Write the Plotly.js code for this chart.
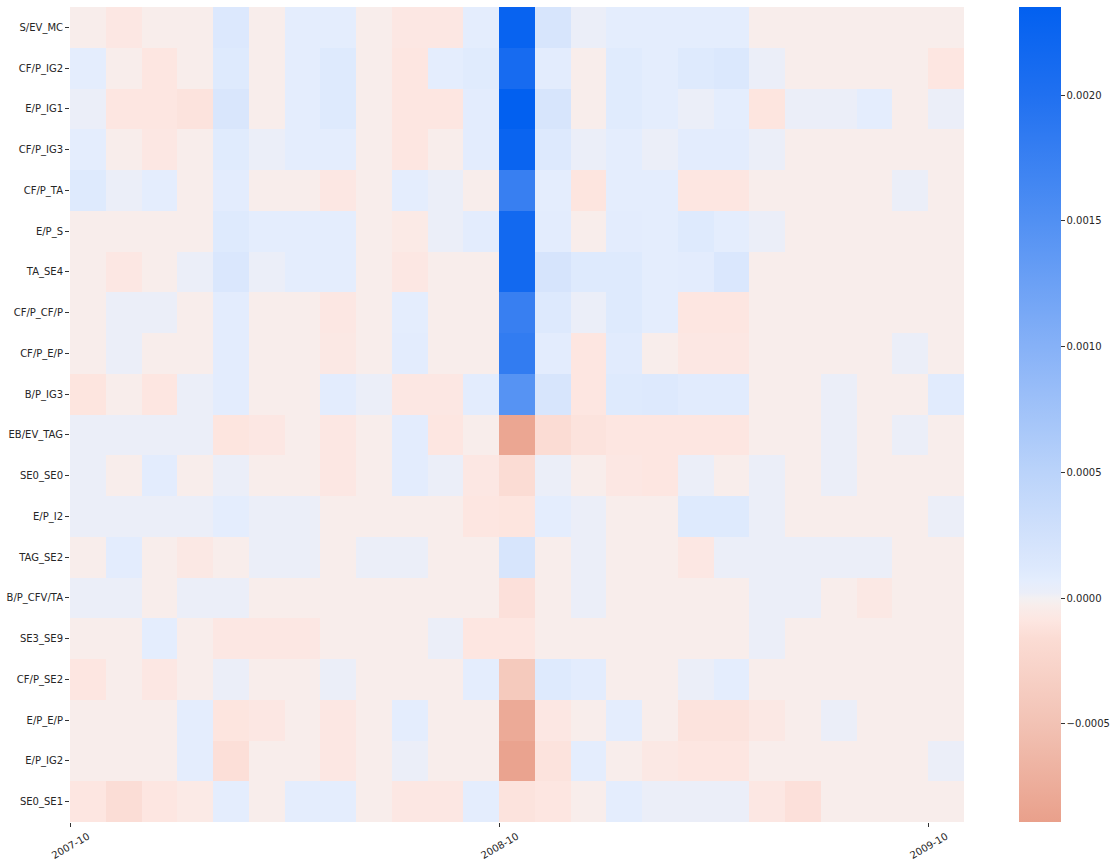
<!DOCTYPE html>
<html>
<head>
<meta charset="utf-8">
<script src="https://cdn.plot.ly/plotly-3.0.1.min.js"></script>
<style>
  body { margin: 0; background: #fff; }
  #chart { width: 1118px; height: 866px; }
</style>
</head>
<body>
<div id="chart"></div>
<script>
// Months on the x axis (each cell starts at its month)
let months = ["2007-10","2007-11","2007-12","2008-01","2008-02","2008-03","2008-04","2008-05","2008-06","2008-07","2008-08","2008-09",
              "2008-10","2008-11","2008-12","2009-01","2009-02","2009-03","2009-04","2009-05","2009-06","2009-07","2009-08","2009-09","2009-10"]
let tickMonths = ["2007-10","2008-10","2009-10"]

// Factor names, top to bottom
let factors = ["S/EV_MC","CF/P_IG2","E/P_IG1","CF/P_IG3","CF/P_TA","E/P_S","TA_SE4","CF/P_CF/P","CF/P_E/P","B/P_IG3",
               "EB/EV_TAG","SE0_SE0","E/P_I2","TAG_SE2","B/P_CFV/TA","SE3_SE9","CF/P_SE2","E/P_E/P","E/P_IG2","SE0_SE1"]

// One row of values per factor
let sev_mc    = [-0.00003,-0.00008,-0.00003,-0.00003,0.00013,-0.00003,0.00007,0.00007,-0.00003,-0.00008,-0.00008,0.00007,0.00228,0.00019,0.00002,0.00007,0.00007,0.00007,0.00007,-0.00003,-0.00003,-0.00003,-0.00003,-0.00003,-0.00003]
let cfp_ig2   = [0.00007,-0.00003,-0.00009,-0.00003,0.00011,-0.00003,0.00007,0.00011,-0.00003,-0.00009,0.00007,0.00010,0.00210,0.00008,-0.00003,0.00010,0.00007,0.00011,0.00014,0.00002,-0.00003,-0.00003,-0.00003,-0.00003,-0.00009]
let ep_ig1    = [0.00002,-0.00009,-0.00009,-0.00011,0.00017,-0.00003,0.00007,0.00011,-0.00003,-0.00009,-0.00009,0.00008,0.00235,0.00019,-0.00003,0.00010,0.00007,0.00002,0.00007,-0.00010,0.00002,0.00002,0.00007,-0.00003,0.00002]
let cfp_ig3   = [0.00007,-0.00003,-0.00008,-0.00003,0.00010,0.00002,0.00007,0.00007,-0.00003,-0.00009,-0.00003,0.00008,0.00226,0.00012,0.00002,0.00007,0.00002,0.00008,0.00008,0.00002,-0.00003,-0.00003,-0.00003,-0.00003,-0.00003]
let cfp_ta    = [0.00011,0.00002,0.00007,-0.00003,0.00008,-0.00003,-0.00003,-0.00008,-0.00003,0.00007,0.00002,-0.00003,0.00176,0.00007,-0.00010,0.00007,0.00007,-0.00009,-0.00009,-0.00003,-0.00003,-0.00003,-0.00003,0.00002,-0.00003]
let ep_s      = [-0.00003,-0.00003,-0.00003,-0.00003,0.00011,0.00007,0.00007,0.00007,-0.00003,-0.00006,0.00002,0.00008,0.00216,0.00008,-0.00003,0.00008,0.00007,0.00011,0.00007,0.00002,-0.00003,-0.00003,-0.00003,-0.00003,-0.00003]
let ta_se4    = [-0.00003,-0.00008,-0.00003,0.00002,0.00016,0.00002,0.00007,0.00007,-0.00003,-0.00008,-0.00003,-0.00003,0.00216,0.00020,0.00011,0.00011,0.00007,0.00008,0.00015,-0.00003,-0.00003,-0.00003,-0.00003,-0.00003,-0.00003]
let cfp_cfp   = [-0.00003,0.00002,0.00002,-0.00003,0.00008,-0.00003,-0.00003,-0.00008,-0.00003,0.00007,-0.00003,-0.00003,0.00176,0.00012,0.00002,0.00011,0.00007,-0.00009,-0.00009,-0.00003,-0.00003,-0.00003,-0.00003,-0.00003,-0.00003]
let cfp_ep    = [-0.00003,0.00002,-0.00003,-0.00003,0.00008,-0.00003,-0.00003,-0.00007,-0.00003,0.00008,-0.00003,-0.00003,0.00182,0.00008,-0.00009,0.00009,-0.00003,-0.00008,-0.00008,-0.00003,-0.00003,-0.00003,-0.00003,0.00002,-0.00003]
let bp_ig3    = [-0.00010,-0.00003,-0.00009,0.00002,0.00008,-0.00003,-0.00003,0.00008,0.00002,-0.00008,-0.00008,0.00008,0.00145,0.00019,-0.00009,0.00011,0.00012,0.00009,0.00009,-0.00003,-0.00003,0.00002,-0.00003,-0.00003,0.00009]
let ebev_tag  = [0.00002,0.00002,0.00002,0.00002,-0.00010,-0.00008,-0.00003,-0.00008,-0.00003,0.00008,-0.00009,-0.00003,-0.00082,-0.00016,-0.00011,-0.00009,-0.00009,-0.00009,-0.00009,-0.00003,-0.00003,0.00002,-0.00003,0.00002,-0.00003]
let se0_se0   = [0.00002,-0.00003,0.00008,-0.00003,0.00002,-0.00003,-0.00003,-0.00008,-0.00003,0.00008,0.00002,-0.00008,-0.00016,0.00002,-0.00003,-0.00008,-0.00009,0.00002,-0.00003,0.00002,-0.00003,0.00002,-0.00003,-0.00003,-0.00003]
let ep_i2     = [0.00002,0.00002,0.00002,0.00002,0.00007,0.00002,0.00002,-0.00003,-0.00003,-0.00003,-0.00003,-0.00009,-0.00010,0.00007,0.00002,-0.00003,-0.00003,0.00011,0.00011,0.00002,-0.00003,-0.00003,-0.00003,-0.00003,0.00002]
let tag_se2   = [-0.00003,0.00008,-0.00003,-0.00007,-0.00003,0.00002,0.00002,-0.00003,0.00002,0.00002,-0.00003,-0.00003,0.00019,-0.00003,0.00002,-0.00003,-0.00003,-0.00008,0.00002,0.00002,0.00002,0.00002,0.00002,-0.00003,-0.00003]
let bp_cfvta  = [0.00002,0.00002,-0.00003,0.00002,0.00002,-0.00003,-0.00003,-0.00003,-0.00003,-0.00003,-0.00003,-0.00003,-0.00013,-0.00003,0.00002,-0.00003,-0.00003,-0.00003,-0.00003,0.00002,0.00002,-0.00003,-0.00007,-0.00003,-0.00003]
let se3_se9   = [-0.00003,-0.00003,0.00007,-0.00003,-0.00008,-0.00008,-0.00008,-0.00003,-0.00003,-0.00003,0.00002,-0.00009,-0.00009,-0.00003,-0.00003,-0.00003,-0.00003,-0.00003,-0.00003,0.00002,-0.00003,-0.00003,-0.00003,-0.00003,-0.00003]
let cfp_se2   = [-0.00009,-0.00003,-0.00008,-0.00003,0.00002,-0.00003,-0.00003,0.00002,-0.00003,-0.00003,-0.00003,0.00007,-0.00040,0.00011,0.00008,-0.00003,-0.00003,0.00002,0.00007,-0.00003,-0.00003,-0.00003,-0.00003,-0.00003,-0.00003]
let ep_ep     = [-0.00003,-0.00003,-0.00003,0.00007,-0.00010,-0.00008,-0.00003,-0.00008,-0.00003,0.00007,-0.00003,-0.00003,-0.00078,-0.00008,-0.00003,0.00007,-0.00003,-0.00011,-0.00011,-0.00007,-0.00003,0.00002,-0.00003,-0.00003,-0.00003]
let ep_ig2    = [-0.00003,-0.00003,-0.00003,0.00007,-0.00014,-0.00003,-0.00003,-0.00008,-0.00003,0.00002,-0.00003,-0.00003,-0.00085,-0.00011,0.00007,-0.00003,-0.00007,-0.00009,-0.00009,-0.00003,-0.00003,-0.00003,-0.00003,-0.00003,0.00002]
let se0_se1   = [-0.00009,-0.00015,-0.00009,-0.00006,0.00007,-0.00003,0.00007,0.00007,-0.00003,-0.00008,-0.00008,0.00007,-0.00011,-0.00009,-0.00003,0.00007,0.00002,0.00002,0.00002,-0.00008,-0.00013,-0.00003,-0.00003,-0.00003,-0.00003]

let zRows = [sev_mc, cfp_ig2, ep_ig1, cfp_ig3, cfp_ta, ep_s, ta_se4, cfp_cfp, cfp_ep, bp_ig3,
             ebev_tag, se0_se0, ep_i2, tag_se2, bp_cfvta, se3_se9, cfp_se2, ep_ep, ep_ig2, se0_se1]

// Diverging colour map centred on zero (stops given in data units)
let zmin = -0.00089
let zmax = 0.00235
let colorStops = [
    [-0.00089, '#e9a08b'],
    [-0.0005,  '#f2c2b4'],
    [-0.00016, '#fbdcd4'],
    [-0.00009, '#fde6e1'],
    [-0.00003, '#f8edeb'],
    [0,        '#f3f0f2'],
    [0.00002,  '#ebeef8'],
    [0.00007,  '#e4edfd'],
    [0.00012,  '#dde9fd'],
    [0.0002,   '#d6e4fc'],
    [0.0005,   '#bad3fa'],
    [0.001,    '#86b1f7'],
    [0.0015,   '#5190f3'],
    [0.002,    '#2070f0'],
    [0.00235,  '#0260f0']
]
let colorscale = colorStops.map(s => [(s[0] - zmin) / (zmax - zmin), s[1]])
colorscale[0][0] = 0
colorscale[colorscale.length - 1][0] = 1

// month cells sit between month starts, ticks go on the month start
let monthPos = months.map((m, i) => i + 0.5)
let tickPos = tickMonths.map(m => months.indexOf(m))

let trace = {
    type: 'heatmap',
    x: monthPos,
    y: factors,
    z: zRows,
    zmin: zmin,
    zmax: zmax,
    colorscale: colorscale,
    xgap: 0,
    ygap: 0,
    colorbar: {
        x: 1.0615,
        xanchor: 'left',
        xpad: 0,
        y: 0.5,
        yanchor: 'middle',
        ypad: 0,
        len: 1,
        lenmode: 'fraction',
        thickness: 42,
        outlinewidth: 0,
        ticks: 'outside',
        ticklen: 4,
        tickwidth: 1,
        tickcolor: '#333',
        tickvals: [-0.0005, 0, 0.0005, 0.001, 0.0015, 0.002],
        tickformat: '.4f',
        tickfont: { family: 'DejaVu Sans', size: 10, color: '#262626' }
    }
}

let layout = {
    width: 1118,
    height: 866,
    margin: { l: 70, r: 154, t: 7, b: 44 },
    paper_bgcolor: '#fff',
    plot_bgcolor: '#fff',
    font: { family: 'DejaVu Sans', size: 10, color: '#262626' },
    xaxis: {
        type: 'linear',
        range: [0, months.length],
        tickmode: 'array',
        tickvals: tickPos,
        ticktext: tickMonths,
        tickangle: -30,
        ticklabelshift: 18,
        ticks: 'outside',
        ticklen: 4,
        tickcolor: '#333',
        showgrid: false,
        zeroline: false,
        showline: false
    },
    yaxis: {
        type: 'category',
        autorange: 'reversed',
        ticks: 'outside',
        ticklen: 4,
        tickcolor: '#333',
        showgrid: false,
        zeroline: false,
        showline: false
    }
}

Plotly.newPlot('chart', [trace], layout, { displayModeBar: false, staticPlot: true })
</script>
</body>
</html>
